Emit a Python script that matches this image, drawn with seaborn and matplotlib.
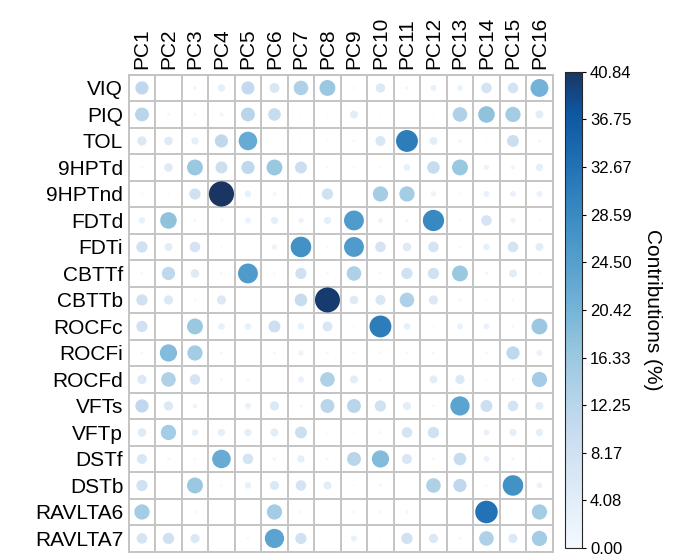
import numpy as np
import pandas as pd
import matplotlib
matplotlib.use("Agg")
import matplotlib.pyplot as plt
import seaborn as sns
from matplotlib.colors import Normalize, LinearSegmentedColormap
from matplotlib.cm import ScalarMappable

# Variables (rows) and principal components (columns)
variables = ["VIQ", "PIQ", "TOL", "9HPTd", "9HPTnd", "FDTd", "FDTi", "CBTTf",
             "CBTTb", "ROCFc", "ROCFi", "ROCFd", "VFTs", "VFTp", "DSTf", "DSTb",
             "RAVLTA6", "RAVLTA7"]
components = ["PC1", "PC2", "PC3", "PC4", "PC5", "PC6", "PC7", "PC8",
              "PC9", "PC10", "PC11", "PC12", "PC13", "PC14", "PC15", "PC16"]

# Contribution (%) of each variable to each component, PC1..PC16
viq     = [11.3, 0.3, 0.8, 3.4, 11.0, 6.4, 13.7, 16.3, 0.4, 5.5, 0.8, 2.3, 2.3, 7.2, 7.2, 20.6]
piq     = [12.4, 0.5, 0.6, 1.0, 12.4, 10.2, 0.2, 0.2, 4.1, 0.2, 0.1, 0.2, 13.7, 17.7, 15.0, 4.1]
tol     = [5.5, 4.8, 3.4, 11.3, 22.2, 0.2, 0.2, 0.3, 0.4, 6.4, 30.8, 4.1, 0.8, 0.2, 9.2, 0.7]
hpt9d   = [0.5, 4.8, 16.3, 9.2, 11.3, 16.3, 9.2, 0.5, 0.3, 0.3, 2.8, 10.2, 16.3, 1.8, 1.2, 3.4]
hpt9nd  = [0.3, 0.2, 8.2, 40.84, 2.8, 0.8, 0.2, 8.2, 0.2, 15.0, 15.0, 1.8, 0.3, 2.3, 2.3, 2.3]
fdtd    = [2.8, 17.7, 0.5, 0.3, 2.3, 3.4, 1.8, 3.4, 25.4, 1.5, 0.8, 29.0, 0.3, 7.2, 1.8, 0.2]
fdti    = [8.2, 4.1, 7.2, 0.3, 0.2, 1.8, 27.2, 0.4, 25.4, 7.2, 4.8, 7.2, 0.3, 2.8, 7.2, 4.1]
cbttf   = [0.5, 11.3, 4.8, 0.5, 25.4, 0.3, 8.2, 0.5, 13.7, 0.5, 8.2, 8.2, 16.3, 0.7, 4.1, 0.2]
cbttb   = [8.2, 5.5, 0.3, 5.5, 0.2, 0.1, 10.2, 40.2, 4.8, 6.4, 13.7, 5.5, 0.7, 0.2, 0.5, 0.1]
rocfc   = [8.2, 0.1, 16.3, 2.8, 2.8, 9.2, 2.8, 6.4, 0.3, 30.8, 2.8, 0.2, 2.3, 2.3, 0.5, 16.3]
rocfi   = [0.5, 19.1, 15.0, 0.5, 0.1, 0.5, 1.8, 0.5, 0.5, 0.5, 0.5, 0.5, 0.1, 0.5, 11.3, 2.3]
rocfd   = [5.5, 13.7, 7.2, 0.5, 0.5, 0.1, 2.3, 13.7, 4.1, 0.2, 0.1, 4.1, 5.5, 0.2, 0.5, 15.0]
vfts    = [11.3, 5.5, 1.4, 0.2, 2.3, 5.5, 0.5, 12.4, 12.4, 8.2, 4.1, 0.5, 23.8, 9.2, 7.2, 4.1]
vftp    = [4.8, 15.0, 2.8, 3.4, 3.4, 4.1, 9.2, 0.3, 0.2, 0.5, 7.2, 8.2, 0.1, 2.3, 3.4, 3.4]
dstf    = [6.4, 0.5, 0.4, 22.2, 7.2, 0.8, 3.4, 0.5, 12.4, 19.1, 6.4, 0.5, 10.2, 2.3, 0.8, 0.2]
dstb    = [8.2, 0.1, 16.3, 0.4, 2.8, 5.5, 7.2, 4.1, 0.3, 0.7, 0.1, 13.7, 11.3, 0.4, 27.2, 2.3]
ravlta6 = [15.0, 0.1, 0.5, 0.1, 0.2, 15.0, 0.5, 0.2, 0.5, 0.5, 0.7, 0.1, 0.1, 32.7, 0.1, 15.0]
ravlta7 = [7.2, 8.2, 5.5, 0.1, 0.5, 23.8, 8.2, 0.1, 2.3, 0.2, 8.2, 5.5, 0.5, 13.7, 5.5, 15.0]

# Colour-bar scale
scale_max = 40.84
bar_ticks = [0.00, 4.08, 8.17, 12.25, 16.33, 20.42, 24.50, 28.59, 32.67, 36.75, 40.84]
bar_tick_labels = ["0.00", "4.08", "8.17", "12.25", "16.33", "20.42",
                   "24.50", "28.59", "32.67", "36.75", "40.84"]

rows = [viq, piq, tol, hpt9d, hpt9nd, fdtd, fdti, cbttf, cbttb, rocfc,
        rocfi, rocfd, vfts, vftp, dstf, dstb, ravlta6, ravlta7]
matrix = np.array(rows)

records = []
for i, var in enumerate(variables):
    for j, pc in enumerate(components):
        records.append({"variable": var, "component": pc,
                        "row": i, "col": j, "value": matrix[i, j]})
df = pd.DataFrame(records)

sns.set_style("white")
plt.rcParams["font.family"] = ["Liberation Sans", "DejaVu Sans"]
for key in ("text.color", "xtick.color", "ytick.color", "axes.labelcolor"):
    plt.rcParams[key] = "black"

fig = plt.figure(figsize=(6.89, 5.6), dpi=100)
ax = fig.add_axes([0.1868, 0.0148, 0.6154, 0.8518])
cax = fig.add_axes([0.820, 0.0214, 0.0242, 0.8505])

# Blues ramp ending in a muted navy
blues = plt.get_cmap("Blues")
stops = [blues(x) for x in np.linspace(0.02, 0.85, 12)] + ["#1b3563"]
cmap = LinearSegmentedColormap.from_list("contrib_blues", stops)
norm = Normalize(vmin=0, vmax=scale_max)

# biggest circle fills ~95% of a cell
cell_pt = ax.get_position().width * fig.get_figwidth() * 72 / len(components)
smax = (0.95 * cell_pt) ** 2

sns.scatterplot(data=df, x="col", y="row", hue="value", size="value",
                sizes=(0, smax), size_norm=(0, scale_max), hue_norm=(0, scale_max),
                palette=cmap, linewidth=0, legend=False, ax=ax, zorder=3)

ax.set_xlim(-0.5, len(components) - 0.5)
ax.set_ylim(len(variables) - 0.5, -0.5)
ax.set_xticks(range(len(components)))
ax.set_xticklabels(components, rotation=90, fontsize=15)
ax.set_yticks(range(len(variables)))
ax.set_yticklabels(variables, fontsize=15)
ax.xaxis.tick_top()
ax.tick_params(axis="both", length=0, pad=4)
ax.set_xticks(np.arange(-0.5, len(components)), minor=True)
ax.set_yticks(np.arange(-0.5, len(variables)), minor=True)
ax.grid(which="minor", color="#c4c4c4", linewidth=1.4)
ax.grid(which="major", visible=False)
ax.tick_params(which="minor", length=0)
ax.set_xlabel("")
ax.set_ylabel("")
for s in ax.spines.values():
    s.set_color("#c4c4c4")
    s.set_linewidth(1.4)

cb = fig.colorbar(ScalarMappable(norm=norm, cmap=cmap), cax=cax)
cb.set_ticks(bar_ticks)
cb.set_ticklabels(bar_tick_labels)
cb.outline.set_linewidth(0.8)
cax.tick_params(length=3, width=0.8, labelsize=12, pad=3, color="black")
cb.set_label("Contributions (%)", rotation=270, fontsize=15, labelpad=22)

fig.savefig("out.png", dpi=100)
